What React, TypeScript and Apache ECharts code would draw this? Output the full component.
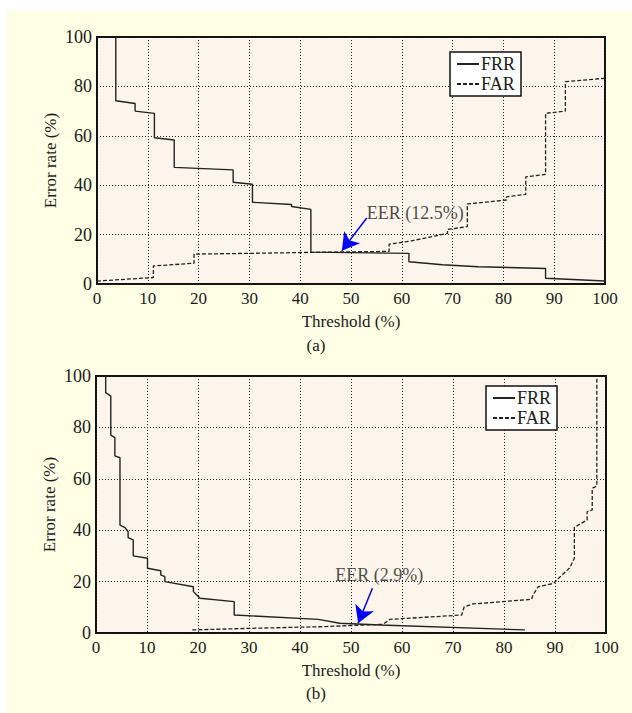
import React, { useEffect, useRef } from "react";
import * as echarts from "echarts";

const xTicks = [0, 10, 20, 30, 40, 50, 60, 70, 80, 90, 100];

// Chart (a)
const frrA: number[][] = [
  [3.7, 100], [3.7, 74.2], [7.5, 73.1], [7.5, 70.0], [11.3, 69.1], [11.3, 59.2],
  [15.2, 58.3], [15.2, 47.2], [26.8, 46.2], [26.8, 41.2], [30.6, 40.4], [30.6, 33.1],
  [38.3, 32.2], [38.3, 31.4], [42.1, 30.2], [42.1, 12.9], [61.4, 12.4], [61.4, 9.0],
  [68, 7.8], [75, 7.0], [88.3, 6.3], [88.3, 2.3], [100, 1.2],
];
const farA: number[][] = [
  [0, 1.2], [11.1, 2.6], [11.1, 7.3], [19.1, 8.4], [19.1, 12.1], [30, 12.4],
  [45, 12.9], [57.5, 13.2], [57.5, 16.1], [62, 17.5], [69, 20.5], [69, 22.1],
  [72.9, 23.2], [72.9, 32.4], [80.6, 34.0], [80.6, 35.3], [84.4, 36.3], [84.4, 43.4],
  [88.3, 44.4], [88.3, 69.1], [92.2, 70.0], [92.2, 81.9], [100, 83.3],
];
const eerA = { text: "EER (12.5%)", label: [53.1, 28.7], from: [53.1, 26.7], to: [48.2, 13.5] };

// Chart (b)
const frrB: number[][] = [
  [1.9, 100], [1.9, 93.5], [2.9, 92.2], [2.9, 77.0], [3.7, 76.0], [3.7, 68.9],
  [4.7, 68.2], [4.7, 42.0], [5.7, 41.0], [6.3, 39.4], [6.3, 37.1], [7.3, 36.2],
  [7.3, 30.0], [10.1, 29.1], [10.1, 25.2], [12.7, 24.2], [12.7, 22.6], [13.5, 21.9],
  [13.5, 20.0], [19.1, 18.0], [19.1, 16.1], [20.4, 13.5], [27.1, 12.2], [27.1, 7.0],
  [43.6, 5.3], [47.8, 3.8], [55.7, 3.1], [84.1, 1.2],
];
const farB: number[][] = [
  [18.9, 1.2], [30, 1.8], [45, 2.5], [56.3, 3.4], [57.6, 5.3], [71.7, 7.0],
  [72.2, 10.2], [73.9, 11.3], [85.4, 13.1], [85.7, 14.8], [86.7, 18.0], [89.7, 19.3],
  [90.7, 21.3], [92.9, 25.4], [93.8, 29.1], [93.8, 41.1], [96.3, 44.0], [96.3, 47.2],
  [97.3, 47.9], [97.3, 56.3], [98.2, 57.2], [98.2, 100],
];
const eerB = { text: "EER (2.9%)", label: [46.9, 22.6], from: [54.2, 17.4], to: [51.4, 3.8] };

const FONT = "Liberation Serif";
const INK = "#1a1a1a";

export default function App() {
  const ref = useRef<HTMLDivElement>(null);
  useEffect(() => {
    if (!ref.current) return;
    const chart = echarts.init(ref.current, undefined, { renderer: "svg" });

    const grids = [
      { left: 97, top: 37, width: 508, height: 247 },
      { left: 96, top: 376, width: 510, height: 257 },
    ];

    const xAxis = grids.map((_, i) => ({
      type: "value",
      gridIndex: i,
      min: xTicks[0],
      max: xTicks[xTicks.length - 1],
      interval: 10,
      name: "Threshold (%)",
      nameLocation: "middle",
      nameGap: 29,
      nameMoveOverlap: false,
      nameTextStyle: { fontFamily: FONT, fontSize: 17, color: INK },
      axisLine: { show: false },
      axisTick: { show: false },
      axisLabel: { fontFamily: FONT, fontSize: 17, color: INK, margin: 6 },
      splitLine: { show: true, lineStyle: { color: "#222", type: [1, 2], width: 1 } },
    }));
    const yAxis = grids.map((_, i) => ({
      type: "value",
      gridIndex: i,
      min: 0,
      max: 100,
      interval: 20,
      name: "Error rate (%)",
      nameLocation: "middle",
      nameGap: 38,
      nameMoveOverlap: false,
      nameTextStyle: { fontFamily: FONT, fontSize: 17, color: INK },
      axisLine: { show: false },
      axisTick: { show: false },
      axisLabel: { fontFamily: FONT, fontSize: 18, color: INK, margin: 5 },
      splitLine: { show: true, lineStyle: { color: "#222", type: [1, 2], width: 1 } },
    }));

    const mkSeries = (i: number, frr: number[][], far: number[][], eer: any) => [
      {
        type: "line",
        name: "FRR",
        xAxisIndex: i,
        yAxisIndex: i,
        data: frr,
        showSymbol: false,
        symbol: "none",
        lineStyle: { color: "#222", width: 1.4, type: "solid" },
        itemStyle: { color: "#222" },
        markLine: {
          silent: true,
          symbol: ["none", "arrow"],
          symbolSize: [15, 17],
          label: { show: false },
          lineStyle: { color: "#0000ff", width: 1.5, type: "solid" },
          data: [[{ coord: eer.from }, { coord: eer.to }]],
        },
      },
      {
        type: "line",
        name: "FAR",
        xAxisIndex: i,
        yAxisIndex: i,
        data: far,
        showSymbol: false,
        symbol: "none",
        lineStyle: { color: "#222", width: 1.3, type: [4, 2] },
        itemStyle: { color: "#222" },
      },
      {
        type: "scatter",
        name: "eer-label",
        xAxisIndex: i,
        yAxisIndex: i,
        data: [eer.label],
        symbolSize: 0,
        silent: true,
        label: {
          show: true,
          position: "right",
          distance: 0,
          formatter: eer.text,
          fontFamily: FONT,
          fontSize: 18,
          color: INK,
        },
      },
    ];

    const legendCommon = {
      orient: "vertical",
      data: ["FRR", "FAR"],
      backgroundColor: "#ffffff",
      borderColor: "#111",
      borderWidth: 1.5,
      borderRadius: 0,
      padding: [3, 6, 3, 6],
      itemGap: 2,
      itemWidth: 22,
      itemHeight: 14,
      selectedMode: false,
      itemStyle: { opacity: 0 },
      textStyle: { fontFamily: FONT, fontSize: 18, color: INK, padding: [0, 0, 0, -3] },
    };

    chart.setOption({
      animation: false,
      backgroundColor: "#ffffff",
      graphic: [
        {
          type: "rect",
          z: -10,
          shape: { x: 6, y: 11, width: 640, height: 720 },
          style: { fill: "#FFFFE6" },
        },
        {
          type: "text",
          x: 316,
          y: 345,
          style: { text: "(a)", font: `17px ${FONT}`, fill: INK, align: "center", verticalAlign: "middle" },
        },
        {
          type: "text",
          x: 316,
          y: 693,
          style: { text: "(b)", font: `17px ${FONT}`, fill: INK, align: "center", verticalAlign: "middle" },
        },
      ],
      grid: grids.map((g) => ({
        ...g,
        show: true,
        backgroundColor: "#FDF5EB",
        borderColor: "#111",
        borderWidth: 2,
        containLabel: false,
      })),
      xAxis,
      yAxis,
      legend: [
        { ...legendCommon, left: 450, top: 52 },
        { ...legendCommon, left: 486, top: 386 },
      ],
      series: [...mkSeries(0, frrA, farA, eerA), ...mkSeries(1, frrB, farB, eerB)],
    });
    return () => chart.dispose();
  }, []);
  return (
    <div
      ref={ref}
      style={{ position: "absolute", left: 0, top: 0, width: 632, height: 713 }}
    />
  );
}
